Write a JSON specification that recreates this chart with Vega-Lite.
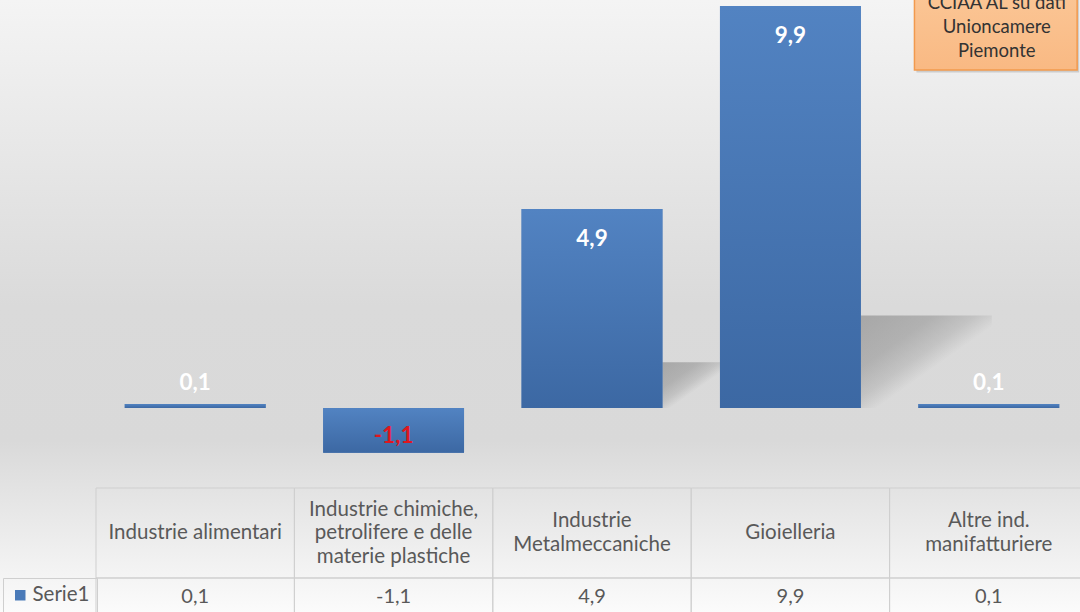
{
  "$schema": "https://vega.github.io/schema/vega-lite/v6.json",
  "width": 1080,
  "height": 612,
  "autosize": {"type": "none"},
  "padding": 0,
  "background": "#f8f8f8",
  "data": {
    "values": [
      {"categoria": "Industrie alimentari", "valore": 0.1, "serie": "Serie1"},
      {"categoria": "Industrie chimiche,\npetrolifere e delle\nmaterie plastiche", "valore": -1.1, "serie": "Serie1"},
      {"categoria": "Industrie\nMetalmeccaniche", "valore": 4.9, "serie": "Serie1"},
      {"categoria": "Gioielleria", "valore": 9.9, "serie": "Serie1"},
      {"categoria": "Altre ind.\nmanifatturiere", "valore": 0.1, "serie": "Serie1"}
    ]
  },
  "layer": [
    {
      "encoding": {
        "x": {
          "field": "categoria", "type": "nominal", "sort": null, "axis": null,
          "scale": {
            "domain": ["Industrie alimentari", "Industrie chimiche,\npetrolifere e delle\nmaterie plastiche", "Industrie\nMetalmeccaniche", "Gioielleria", "Altre ind.\nmanifatturiere"],
            "range": [96, 1088], "paddingInner": 0, "paddingOuter": 0
          }
        },
        "y": {
          "field": "valore", "type": "quantitative", "axis": null,
          "scale": {"domain": [-21.843, 43.687], "nice": false, "zero": false}
        },
        "y2": {"datum": 0}
      },
      "layer": [
        {
          "transform": [{"filter": "datum.valore > 9"}],
          "mark": {
            "type": "bar", "width": {"band": 0.66},
            "color": {
              "gradient": "linear", "x1": 0, "y1": 0, "x2": 1, "y2": 1,
              "stops": [
                {"offset": 0, "color": "rgba(105,105,105,0.45)"},
                {"offset": 0.28, "color": "rgba(105,105,105,0.36)"},
                {"offset": 0.44, "color": "rgba(105,105,105,0.2)"},
                {"offset": 0.56, "color": "rgba(105,105,105,0)"}
              ]
            }
          },
          "encoding": {"xOffset": {"value": 136}}
        },
        {
          "transform": [{"filter": "datum.valore > 4 && datum.valore < 9"}],
          "mark": {
            "type": "bar", "width": {"band": 0.33},
            "color": {
              "gradient": "linear", "x1": 0, "y1": 0, "x2": 1, "y2": 1,
              "stops": [
                {"offset": 0, "color": "rgba(105,105,105,0.45)"},
                {"offset": 0.28, "color": "rgba(105,105,105,0.36)"},
                {"offset": 0.44, "color": "rgba(105,105,105,0.2)"},
                {"offset": 0.56, "color": "rgba(105,105,105,0)"}
              ]
            }
          },
          "encoding": {"xOffset": {"value": 103}}
        }
      ]
    },
    {
      "encoding": {
        "x": {"field": "categoria", "type": "nominal", "sort": null, "axis": null}
      },
      "layer": [
        {
          "mark": {"type": "bar", "width": {"band": 0.71}},
          "encoding": {
            "y": {
              "field": "valore", "type": "quantitative", "axis": null,
              "scale": {"domain": [-5.024, 10.048], "nice": false, "zero": false}
            },
            "y2": {"datum": 0},
            "color": {
              "field": "serie", "type": "nominal",
              "scale": {"range": ["#4a7ab8"]},
              "legend": {
                "orient": "none", "legendX": 3, "legendY": 578, "title": null,
                "symbolType": "square", "symbolSize": 110, "symbolStrokeWidth": 0,
                "labelFont": "Lato", "labelFontSize": 20.5, "labelColor": "#595959",
                "labelOffset": 2, "padding": 7, "strokeColor": "#cfcfcf"
              }
            }
          }
        },
        {
          "mark": {
            "type": "bar", "width": {"band": 0.71},
            "color": {
              "gradient": "linear", "x1": 0, "y1": 0, "x2": 0, "y2": 1,
              "stops": [
                {"offset": 0, "color": "#5283c2"},
                {"offset": 1, "color": "#3c68a3"}
              ]
            }
          },
          "encoding": {
            "y": {"field": "valore", "type": "quantitative"},
            "y2": {"datum": 0}
          }
        },
        {
          "transform": [{"filter": "datum.valore >= 1"}],
          "mark": {"type": "text", "font": "Lato", "fontSize": 22.5, "fontWeight": "bold", "color": "white", "baseline": "middle", "dy": 30},
          "encoding": {
            "y": {"field": "valore", "type": "quantitative"},
            "text": {"field": "valore", "type": "quantitative", "format": ".1f"}
          }
        },
        {
          "transform": [{"filter": "datum.valore >= 0 && datum.valore < 1"}],
          "mark": {"type": "text", "font": "Lato", "fontSize": 22.5, "fontWeight": "bold", "color": "white", "baseline": "middle", "dy": -21},
          "encoding": {
            "y": {"field": "valore", "type": "quantitative"},
            "text": {"field": "valore", "type": "quantitative", "format": ".1f"}
          }
        },
        {
          "transform": [{"filter": "datum.valore < 0"}],
          "mark": {"type": "text", "font": "Lato", "fontSize": 22.5, "fontWeight": "bold", "color": "#e0161f", "baseline": "middle", "dy": -17},
          "encoding": {
            "y": {"field": "valore", "type": "quantitative"},
            "text": {"field": "valore", "type": "quantitative", "format": ".1f"}
          }
        },
        {
          "data": {"values": [{"categoria": "Altre ind.\nmanifatturiere", "nota": "CCIAA AL su dati\nUnioncamere\nPiemonte"}]},
          "mark": {"type": "bar", "width": {"band": 0.82}, "color": "#7f7f7f", "opacity": 0.3},
          "encoding": {
            "xOffset": {"value": 9},
            "y": {"datum": 10.4},
            "y2": {"datum": 8.26}
          }
        },
        {
          "data": {"values": [{"categoria": "Altre ind.\nmanifatturiere", "nota": "CCIAA AL su dati\nUnioncamere\nPiemonte"}]},
          "mark": {
            "type": "bar", "width": {"band": 0.82}, "stroke": "#f29a4e", "strokeWidth": 1.5,
            "color": {
              "gradient": "linear", "x1": 0, "y1": 0, "x2": 0, "y2": 1,
              "stops": [
                {"offset": 0, "color": "#fbc797"},
                {"offset": 1, "color": "#f9b983"}
              ]
            }
          },
          "encoding": {
            "xOffset": {"value": 7},
            "y": {"datum": 10.4},
            "y2": {"datum": 8.324}
          }
        },
        {
          "data": {"values": [{"categoria": "Altre ind.\nmanifatturiere", "nota": "CCIAA AL su dati\nUnioncamere\nPiemonte"}]},
          "mark": {"type": "text", "font": "Lato", "fontSize": 18.5, "color": "#333333", "baseline": "middle", "lineBreak": "\n", "lineHeight": 24, "dx": 8},
          "encoding": {
            "y": {"datum": 9.97},
            "text": {"field": "nota", "type": "nominal"}
          }
        }
      ]
    },
    {
      "encoding": {
        "x": {"field": "categoria", "type": "nominal", "sort": null, "axis": null}
      },
      "layer": [
        {
          "mark": {"type": "rect", "filled": false, "color": "#cfcfcf", "strokeWidth": 1},
          "encoding": {
            "y": {
              "datum": "intestazione", "type": "nominal", "axis": null,
              "scale": {"domain": ["intestazione", "valori"], "range": [488, 668], "paddingInner": 0, "paddingOuter": 0}
            }
          }
        },
        {
          "mark": {"type": "rect", "filled": false, "color": "#cfcfcf", "strokeWidth": 1},
          "encoding": {
            "y": {"datum": "valori", "type": "nominal"}
          }
        },
        {
          "transform": [{"filter": "length(split(datum.categoria, '\\n')) == 1"}],
          "mark": {"type": "text", "font": "Lato", "fontSize": 20.5, "color": "#595959", "baseline": "middle", "lineBreak": "\n", "lineHeight": 23.5},
          "encoding": {
            "y": {"datum": "intestazione", "type": "nominal"},
            "text": {"field": "categoria", "type": "nominal"}
          }
        },
        {
          "transform": [{"filter": "length(split(datum.categoria, '\\n')) == 2"}],
          "mark": {"type": "text", "font": "Lato", "fontSize": 20.5, "color": "#595959", "baseline": "middle", "lineBreak": "\n", "lineHeight": 23.5, "dy": -11.75},
          "encoding": {
            "y": {"datum": "intestazione", "type": "nominal"},
            "text": {"field": "categoria", "type": "nominal"}
          }
        },
        {
          "transform": [{"filter": "length(split(datum.categoria, '\\n')) == 3"}],
          "mark": {"type": "text", "font": "Lato", "fontSize": 20.5, "color": "#595959", "baseline": "middle", "lineBreak": "\n", "lineHeight": 23.5, "dy": -23.5},
          "encoding": {
            "y": {"datum": "intestazione", "type": "nominal"},
            "text": {"field": "categoria", "type": "nominal"}
          }
        },
        {
          "mark": {"type": "text", "font": "Lato", "fontSize": 20, "color": "#595959", "baseline": "middle", "dy": -26},
          "encoding": {
            "y": {"datum": "valori", "type": "nominal"},
            "text": {"field": "valore", "type": "quantitative", "format": ".1f"}
          }
        }
      ]
    }
  ],
  "resolve": {"scale": {"y": "independent"}},
  "config": {
    "view": {
      "stroke": null,
      "fill": {
        "gradient": "linear", "x1": 0, "y1": 0, "x2": 0, "y2": 1,
        "stops": [
          {"offset": 0, "color": "#f4f4f4"},
          {"offset": 0.5, "color": "#dadada"},
          {"offset": 0.72, "color": "#d9d9d9"},
          {"offset": 0.8, "color": "#e3e3e3"},
          {"offset": 1, "color": "#fbfbfb"}
        ]
      }
    },
    "locale": {
      "number": {"decimal": ",", "thousands": ".", "grouping": [3], "currency": ["€", ""], "minus": "-"}
    }
  }
}
